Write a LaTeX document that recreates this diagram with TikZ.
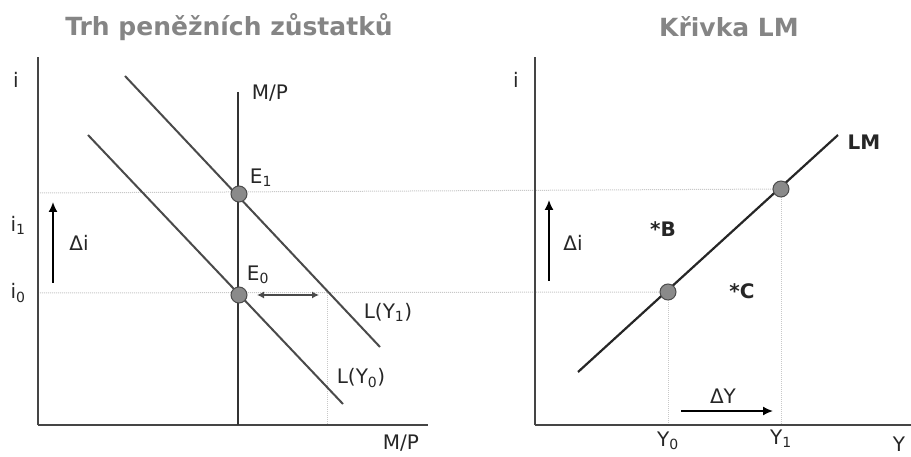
\documentclass[tikz,border=0pt]{standalone}
\usepackage{fontspec}
\setmainfont{DejaVu Sans}
\usetikzlibrary{arrows.meta,positioning}
\definecolor{AxisGray}{HTML}{454545}
\definecolor{LineGray}{HTML}{4A4A4A}
\definecolor{TitleGray}{HTML}{858585}
\definecolor{DotGray}{HTML}{C8C8C8}
\definecolor{PtFill}{HTML}{8A8A8A}
\tikzset{
  axis/.style={draw=AxisGray, line width=2.4pt},
  supply/.style={draw=black!80, line width=2.8pt},
  demand/.style={draw=LineGray, line width=2pt},
  lmline/.style={draw=black!85, line width=2.2pt},
  guide/.style={draw=DotGray, line width=1pt, densely dotted},
  pt/.style={circle, draw=black!70, fill=PtFill, line width=1pt, minimum size=16pt, inner sep=0pt},
  title/.style={font=\bfseries\fontsize{25}{28}\selectfont, text=TitleGray},
  lab/.style={font=\fontsize{20}{23}\selectfont, text=black!85, inner sep=1pt},
  blab/.style={lab, font=\bfseries\fontsize{20}{23}\selectfont},
  arr/.style={-{Latex[length=10pt,width=9pt]}, draw=black, line width=1.6pt},
  darr/.style={{Latex[length=7pt,width=7pt]}-{Latex[length=7pt,width=7pt]}, draw=LineGray, line width=1.3pt}
}

\begin{document}
\begin{tikzpicture}[x=1pt,y=-1pt]
\useasboundingbox (0,0) rectangle (911,457);
% titles
\node[title] (t1) at (229,27) {Trh peněžních zůstatků};
\node[title] (t2) at (729,27) {Křivka LM};

% left panel: money market
\coordinate (o1) at (38,425);
\coordinate (y1top) at (38,57);
\coordinate (x1end) at (428,425);
\coordinate (mptop) at (238,92);
\coordinate (mpbot) at (238,425);
\coordinate (E1) at (239,194);
\coordinate (E0) at (239,295);
\coordinate (L1a) at (125,76);
\coordinate (L1b) at (380,347);
\coordinate (L0a) at (88,135);
\coordinate (L0b) at (343,404);

% right panel: LM curve
\coordinate (o2) at (535,425);
\coordinate (y2top) at (535,57);
\coordinate (x2end) at (911,425);
\coordinate (LMa) at (578,372);
\coordinate (LMb) at (838,135);
\coordinate (P0) at (668,292);
\coordinate (P1) at (781,189);

% guides
\coordinate (g1) at (40,193);
\coordinate (g0) at (40,293);
\coordinate (gx) at (327,293);
\coordinate (gxb) at (327,425);
\coordinate (y0b) at (668,425);
\coordinate (y1b) at (781,425);
\draw[guide] (g1) -- (P1);
\draw[guide] (g0) -- (P0);
\draw[guide] (gx) -- (gxb);
\draw[guide] (P0) -- (y0b);
\draw[guide] (P1) -- (y1b);

% curves and axes
\draw[demand] (L1a) -- (L1b);
\draw[demand] (L0a) -- (L0b);
\draw[lmline] (LMa) -- (LMb);
\foreach \a/\b in {o1/y1top,o1/x1end,o2/y2top,o2/x2end}{\draw[axis] (\a) -- (\b);}
\draw[supply] (mptop) -- (mpbot);
\foreach \p in {E1,E0,P0,P1}{\node[pt] (\p dot) at (\p) {};}

% shift arrows
\coordinate (di1a) at (53,283);
\coordinate (di1b) at (53,202);
\coordinate (di2a) at (549,281);
\coordinate (di2b) at (549,200);
\coordinate (dya) at (681,411);
\coordinate (dyb) at (773,411);
\coordinate (dma) at (257,295);
\coordinate (dmb) at (319,295);
\draw[arr] (di1a) -- (di1b);
\draw[arr] (di2a) -- (di2b);
\draw[arr] (dya) -- (dyb);
\draw[darr] (dma) -- (dmb);

% labels
\node[lab] (i1ax) at (16,80) {i};
\node[lab] (i2ax) at (516,80) {i};
\node[lab] (mpl) at (270,93) {M/P};
\node[lab] (mpx) at (401,443) {M/P};
\node[lab] (e1l) at (261,178) {E\textsubscript{1}};
\node[lab] (e0l) at (258,275) {E\textsubscript{0}};
\node[lab] (li1) at (18,225) {i\textsubscript{1}};
\node[lab] (li0) at (18,293) {i\textsubscript{0}};
\node[lab] (dil) at (79,243) {Δi};
\node[lab] (dir) at (573,243) {Δi};
\node[lab] (ly1) at (388,312) {L(Y\textsubscript{1})};
\node[lab] (ly0) at (361,378) {L(Y\textsubscript{0})};
\node[blab] (lml) at (864,142) {LM};
\node[blab] (bl) at (663,229) {*B};
\node[blab] (cl) at (742,291) {*C};
\node[lab] (dyl) at (723,396) {ΔY};
\node[lab] (y0l) at (668,441) {Y\textsubscript{0}};
\node[lab] (y1l) at (781,439) {Y\textsubscript{1}};
\node[lab] (yl) at (899,444) {Y};
\end{tikzpicture}
\end{document}
